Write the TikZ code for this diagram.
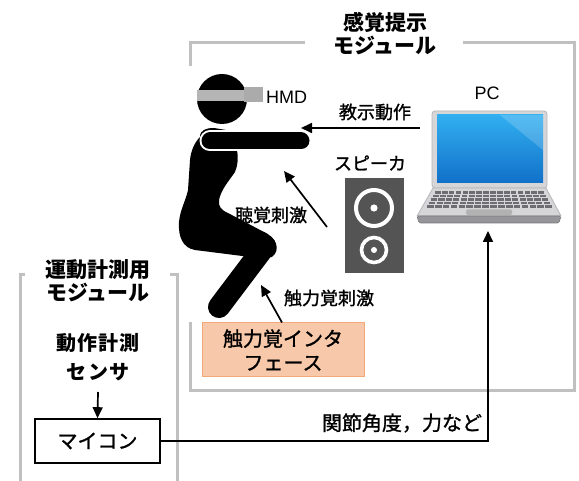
\documentclass[tikz,border=0pt]{standalone}
\usepackage{fontspec}
\setmainfont{Liberation Sans}
\newfontfamily\jp{Noto Sans CJK JP}
\newfontfamily\jpm{Noto Sans CJK JP}[FakeBold=1.3]
\newfontfamily\jpwide{Noto Sans CJK JP}[LetterSpace=6]
\usetikzlibrary{arrows.meta}
\definecolor{bracketgray}{RGB}{192,192,192}
\definecolor{hapticfill}{RGB}{248,200,170}
\definecolor{hapticline}{RGB}{242,168,120}
\definecolor{speakergray}{RGB}{84,84,84}
\definecolor{screentop}{RGB}{50,175,240}
\definecolor{screenbottom}{RGB}{16,112,200}
\definecolor{silver}{RGB}{214,214,216}
\definecolor{silverdark}{RGB}{150,150,154}
\definecolor{keygray}{RGB}{110,110,114}
\begin{document}
\begin{tikzpicture}[x=1pt,y=-1pt,
  bracket/.style={draw=bracketgray, line width=3pt},
  arr/.style={draw=black, line width=1.7pt, -{Triangle[length=11pt,width=10pt]}},
  lbl/.style={font=\jpm\fontsize{18}{22}\selectfont, inner sep=0pt},
  ttl/.style={font=\jp\bfseries\fontsize{21}{23}\selectfont, align=center, inner sep=0pt},
  latin/.style={font=\fontsize{18}{22}\selectfont, inner sep=0pt},
  boxtext/.style={font=\jpm\fontsize{20}{24}\selectfont, align=center, inner sep=0pt}]
\useasboundingbox (0,0) rectangle (579,481);

% module brackets
\draw[bracket] (305,43) -- (190,43) -- (190,66);
\draw[bracket] (463,43) -- (574,43) -- (574,391) -- (190,391) -- (190,322);
\draw[bracket] (25,275) -- (20,275) -- (20,481);
\draw[bracket] (170,275) -- (177,275) -- (177,481);

% module titles
\node[ttl] (senseTitle) at (385,34) {感覚提示\\モジュール};
\node[ttl] (motionTitle) at (98,281) {運動計測用\\モジュール};

% person: head with HMD
\fill (222,99) circle (25);
\fill[gray!58] (197,90) rectangle (248,101);
\fill[gray!66] (244,87) rectangle (263,102);
\node[latin, anchor=west] (hmd) at (266,97) {HMD};

% person: torso and thigh
\fill (200,137) .. controls (200,130) and (206,128) .. (214,128) -- (226,130)
  .. controls (237,140) and (241,158) .. (235,172)
  .. controls (228,182) and (221,190) .. (219,200)
  .. controls (218,206) and (221,210) .. (228,213)
  -- (262,231)
  .. controls (277,237) and (281,250) .. (272,257)
  -- (258,258) -- (195,250)
  .. controls (183,248) and (178,237) .. (179,222)
  .. controls (180,210) and (186,200) .. (188,190)
  -- (190,160) .. controls (191,150) and (195,142) .. (200,137) -- cycle;
% lower leg
\draw[line width=22pt, line cap=round] (265,246) -- (219,307);
% arm with light outline
\draw[white, line width=21pt, line cap=round] (210,141) -- (301,141);
\draw[black, line width=17pt, line cap=round] (210,141) -- (301,141);

% laptop
\begin{scope}
  \fill[silver, draw=silverdark!70, line width=0.8pt, rounded corners=3pt] (432,111) rectangle (547,188);
  \shade[top color=screentop, bottom color=screenbottom] (437,115) rectangle (543,183);
  \fill[white, opacity=0.18] (500,115) -- (543,115) -- (543,150) -- cycle;
  \fill[silver, draw=silverdark!70, line width=0.8pt] (433,188) -- (546,188) -- (561,216) -- (417,216) -- cycle;
  \fill[silverdark, draw=silverdark!80!black, line width=0.6pt, rounded corners=1.5pt] (417,216) -- (561,216) -- (559,223) -- (419,223) -- cycle;
  \foreach \r in {0,...,4} {
    \pgfmathsetmacro{\yy}{191+\r*3.6}
    \pgfmathsetmacro{\xl}{436-(\yy-188)*0.55}
    \pgfmathsetmacro{\xr}{543+(\yy-188)*0.55}
    \pgfmathsetmacro{\kw}{(\xr-\xl)/16}
    \foreach \c in {0,...,15} {
      \fill[keygray] (\xl+\c*\kw+0.6, \yy) rectangle (\xl+\c*\kw+\kw-0.6, \yy+2.6);
    }
  }
  \fill[gray!60, rounded corners=1.5pt] (466,209.5) rectangle (512,215);
\end{scope}
\node[latin] (pc) at (487,93) {PC};
\coordinate (pcBottom) at (488,231);

% speaker
\fill[speakergray] (345,178) rectangle (404,273);
\draw[white, line width=4pt] (374,208) circle (18);
\fill[white] (374,208) circle (3.6);
\draw[white, line width=3.6pt] (374,250) circle (12.5);
\fill[white] (374,250) circle (3);
\node[lbl] (spk) at (370,163) {スピーカ};

% haptic interface
\node[draw=hapticline, fill=hapticfill, line width=1pt, minimum width=162pt, minimum height=54pt,
      inner sep=0pt, boxtext] (haptic) at (283,350) {触力覚インタ\\フェース};

% stimulus arrows
\coordinate (teachStart) at (420,128);
\coordinate (armTip) at (301,128);
\draw[arr] (teachStart) -- (armTip);
\node[lbl] (teach) at (375,112) {教示動作};

\coordinate (audTail) at (327,227);
\coordinate (audTip) at (284,171);
\draw[arr] (audTail) -- (audTip);
\node[lbl] (aud) at (271,215) {聴覚刺激};

\coordinate (hapTip) at (261,285);
\draw[arr] (haptic.north -| 282,0) -- (hapTip);
\node[lbl] (hapLbl) at (329,298) {触力覚刺激};

% motion measurement module
\node[font=\jpwide\bfseries\fontsize{20}{29}\selectfont, align=center, inner sep=0pt] (sensor) at (98,357) {動作計測\\センサ};
\node[draw=black, line width=1.6pt, minimum width=125pt, minimum height=44pt, inner sep=0pt,
      font=\jpm\fontsize{20}{24}\selectfont] (mcu) at (97.5,441) {マイコン};
\coordinate (sensorOut) at (98,392);
\draw[arr] (sensorOut) -- (mcu.north);

% measured data to the PC
\draw[arr] (mcu.east) -| (pcBottom);
\node[font=\jpm\fontsize{20}{24}\selectfont, inner sep=0pt] (data) at (402,423) {関節角度，力など};
\end{tikzpicture}
\end{document}
